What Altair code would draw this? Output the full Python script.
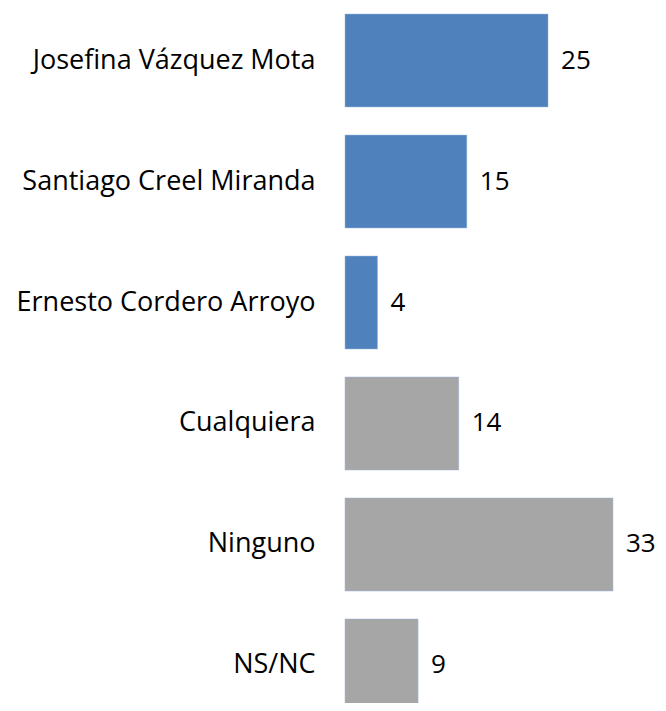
import altair as alt
import pandas as pd

categories = ["Josefina Vázquez Mota", "Santiago Creel Miranda", "Ernesto Cordero Arroyo",
              "Cualquiera", "Ninguno", "NS/NC"]
values = [25, 15, 4, 14, 33, 9]
groups = ["cand", "cand", "cand", "otro", "otro", "otro"]

df = pd.DataFrame({"cat": categories, "val": values, "grp": groups})

FONT = "Open Sans"
FS = 27

y = alt.Y("cat:N", sort=categories,
          scale=alt.Scale(paddingInner=0.2314, paddingOuter=0.0496, range=[0, 710]),
          axis=alt.Axis(title=None, domain=False, ticks=False, labelPadding=30,
                        labelFontSize=FS, labelFont=FONT, labelColor="#000000",
                        labelLimit=400))
x = alt.X("val:Q", scale=alt.Scale(domain=[0, 33], nice=False, zero=True), axis=None)

bars = alt.Chart(df).mark_bar(stroke="#9db8da", strokeWidth=0.5).encode(
    y=y, x=x,
    color=alt.Color("grp:N", scale=alt.Scale(domain=["cand", "otro"],
                                             range=["#4F81BD", "#A6A6A6"]), legend=None),
)

labels = alt.Chart(df).mark_text(align="left", baseline="middle", dx=13,
                                 fontSize=26, font=FONT, color="#000000").encode(
    y=alt.Y("cat:N", sort=categories), x=x, text=alt.Text("val:Q"))

chart = (bars + labels).properties(
    width=268, height=695,
    autosize=alt.AutoSizeParams(type="none"),
    padding={"left": 337, "top": 0, "right": 45, "bottom": 0},
).configure_view(stroke=None)

chart.save("out.html", embed_options={"renderer": "svg", "actions": False})
